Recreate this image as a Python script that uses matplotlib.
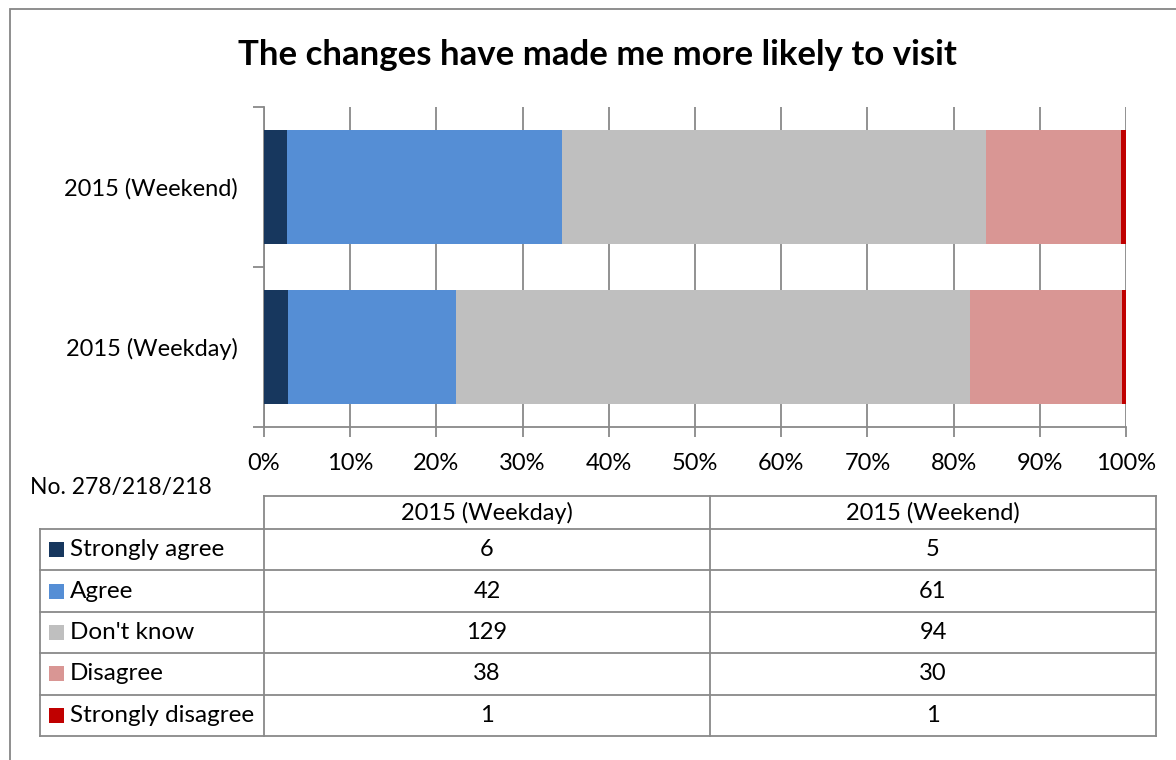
import matplotlib.pyplot as plt
from matplotlib.patches import Rectangle
from matplotlib.lines import Line2D

plt.rcParams['font.family'] = ['Lato', 'DejaVu Sans']

title = "The changes have made me more likely to visit"
sample_note = "No. 278/218/218"
groups = ["2015 (Weekday)", "2015 (Weekend)"]
answers = ["Strongly agree", "Agree", "Don't know", "Disagree", "Strongly disagree"]
weekday = [6, 42, 129, 38, 1]
weekend = [5, 61, 94, 30, 1]
colours = ["#17375E", "#558ED5", "#BFBFBF", "#D99694", "#C00000"]
xticks = [0, 10, 20, 30, 40, 50, 60, 70, 80, 90, 100]

W, H = 1176, 760
grid_col = "#898989"
text_col = "#000000"
fs = 17

fig = plt.figure(figsize=(W / 100, H / 100), dpi=100)


def fx(px):
    return px / W


def fy(py):
    return 1 - py / H


# chart border
fig.add_artist(Rectangle((fx(10), fy(790)), fx(1200) - fx(10), fy(9) - fy(790),
                         transform=fig.transFigure, fill=False,
                         edgecolor="#868686", lw=1.3))

fig.text(fx(597), fy(55), title, ha="center", va="center",
         fontsize=25, fontweight="bold", color=text_col)

# stacked 100% bars
ax = fig.add_axes([fx(264), fy(427), fx(1126) - fx(264), fy(107) - fy(427)])
series = [weekday, weekend]
for row, counts in enumerate(series):
    total = sum(counts)
    left = 0.0
    for val, col in zip(counts, colours):
        share = val / total * 100
        ax.barh(row + 0.5, share, left=left, height=0.71, color=col,
                edgecolor="none", zorder=3)
        left += share

ax.set_xlim(0, 100)
ax.set_ylim(0, 2)
ax.set_xticks(xticks)
ax.set_xticklabels([f"{t}%" for t in xticks])
ax.set_yticks([0, 1, 2])
ax.set_yticklabels([])
ax.set_yticks([0.5, 1.5], minor=True)
ax.set_yticklabels(groups, minor=True)
ax.tick_params(axis="y", which="minor", length=0, pad=19, labelsize=fs)
ax.tick_params(axis="y", which="major", length=8, width=1.3, color=grid_col)
ax.tick_params(axis="x", length=7, width=1.3, color=grid_col, labelsize=fs,
               pad=12)
ax.grid(axis="x", color=grid_col, lw=1.3, zorder=1)
for side in ["top", "right"]:
    ax.spines[side].set_visible(False)
for side in ["left", "bottom"]:
    ax.spines[side].set_color(grid_col)
    ax.spines[side].set_linewidth(1.3)

# data table underneath
fig.text(fx(30), fy(487), sample_note, ha="left", va="center", fontsize=16.5,
         color=text_col)

tab = fig.add_axes([0, 0, 1, 1])
tab.set_xlim(0, W)
tab.set_ylim(H, 0)
tab.axis("off")

col_x = [40, 264, 710, 1156]
head_top, head_bot = 496, 529
row_h = 41.4
n_rows = len(answers)
bottom = head_bot + n_rows * row_h


def hline(y, x0, x1):
    tab.add_line(Line2D([x0, x1], [y, y], color=grid_col, lw=1.3))


def vline(x, y0, y1):
    tab.add_line(Line2D([x, x], [y0, y1], color=grid_col, lw=1.3))


hline(head_top, col_x[1], col_x[3])
for i in range(n_rows + 1):
    hline(head_bot + i * row_h, col_x[0], col_x[3])
vline(col_x[0], head_bot, bottom)
for x in col_x[1:]:
    vline(x, head_top, bottom)

for j, g in enumerate(groups):
    tab.text((col_x[j + 1] + col_x[j + 2]) / 2, (head_top + head_bot) / 2,
             g, ha="center", va="center", fontsize=fs, color=text_col)

for i, name in enumerate(answers):
    yc = head_bot + (i + 0.5) * row_h
    tab.add_patch(Rectangle((49, yc - 7.5), 15, 15, color=colours[i], lw=0))
    tab.text(70, yc, name, ha="left", va="center", fontsize=17.5,
             color=text_col)
    for j, counts in enumerate(series):
        tab.text((col_x[j + 1] + col_x[j + 2]) / 2, yc, str(counts[i]),
                 ha="center", va="center", fontsize=fs, color=text_col)

fig.savefig("out.png", dpi=100)
